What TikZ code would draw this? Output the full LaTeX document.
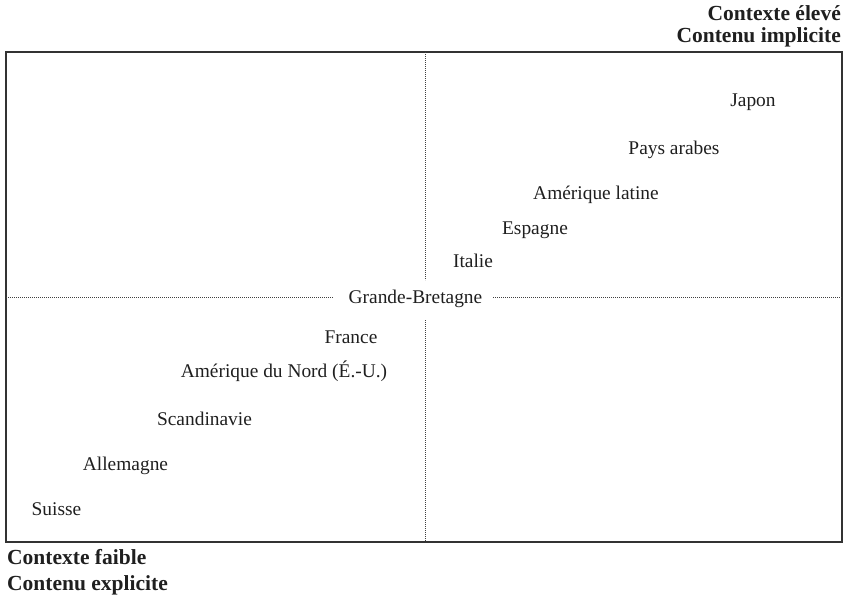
\documentclass[tikz,border=0pt]{standalone}
\usepackage{fontspec}
\setmainfont{Liberation Serif}
\begin{document}
\begin{tikzpicture}[x=1pt,y=-1pt,
  lbl/.style={anchor=base,inner sep=0pt,text=black!88,font=\fontsize{19.4}{23}\selectfont},
  hdr/.style={inner sep=0pt,text=black!88,font=\fontsize{21.5}{25}\selectfont\bfseries},
  frame/.style={draw=black!80,line width=1.4pt},
  dotline/.style={draw=black!75,line width=0.9pt,dash pattern=on 0.9pt off 1.1pt}]
\useasboundingbox (0,0) rectangle (846,597);
% frame
\coordinate (tl) at (6,52);
\coordinate (br) at (842,542);
\draw[frame] (tl) rectangle (br);
% headers
\node[hdr,anchor=base east] (h1) at (841,20) {Contexte élevé};
\node[hdr,anchor=base east] (h2) at (841,42) {Contenu implicite};
\node[hdr,anchor=base west] (f1) at (7,564) {Contexte faible};
\node[hdr,anchor=base west] (f2) at (7,590) {Contenu explicite};
% labels
\node[lbl] (jp) at (753,106) {Japon};
\node[lbl] (pa) at (674,154) {Pays arabes};
\node[lbl] (al) at (596,199) {Amérique latine};
\node[lbl] (es) at (535,234) {Espagne};
\node[lbl] (it) at (473,267) {Italie};
\node[lbl] (gb) at (415.5,303) {Grande-Bretagne};
\node[lbl] (fr) at (351,343) {France};
\node[lbl] (an) at (284,377) {Amérique du Nord (É.-U.)};
\node[lbl] (sc) at (204.5,425) {Scandinavie};
\node[lbl] (de) at (125.5,470) {Allemagne};
\node[lbl] (ch) at (56.5,515) {Suisse};
% axes
\coordinate (vt) at (425,52);
\coordinate (vm1) at (425,280);
\coordinate (vm2) at (425,320);
\coordinate (vb) at (425,542);
\coordinate (hl) at (6,297.5);
\coordinate (hm1) at (333,297.5);
\coordinate (hm2) at (493,297.5);
\coordinate (hr) at (842,297.5);
\draw[dotline] (vt) -- (vm1);
\draw[dotline] (vm2) -- (vb);
\draw[dotline] (hl) -- (hm1);
\draw[dotline] (hm2) -- (hr);
\end{tikzpicture}
\end{document}
